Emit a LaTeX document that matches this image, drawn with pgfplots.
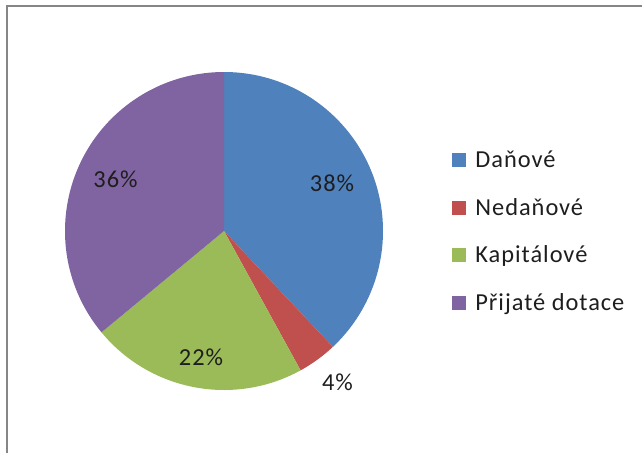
\documentclass[border=0pt]{standalone}
\usepackage{pgfplots}
\pgfplotsset{compat=1.18}
\usepackage{fontspec}
\setmainfont{Carlito}[LetterSpace=4]

\definecolor{cDan}{RGB}{79,129,189}
\definecolor{cNed}{RGB}{192,80,77}
\definecolor{cKap}{RGB}{155,187,89}
\definecolor{cDot}{RGB}{128,100,162}
\definecolor{frame}{RGB}{134,134,134}
\definecolor{txt}{RGB}{30,30,30}

\begin{document}
\begin{tikzpicture}
\useasboundingbox (0,0) rectangle (321pt,226pt);
\clip (0,0) rectangle (321pt,226pt);
\begin{axis}[
    hide axis,
    scale only axis,
    x=0.5pt, y=0.5pt,
    xmin=0, xmax=642,
    ymin=0, ymax=452,
    clip=false,
    font=\fontsize{12.2}{14}\selectfont
]
    % frame (only top and left edges fall inside the picture)
    \draw[frame, line width=1pt] (axis cs:7,-20) -- (axis cs:7,446) -- (axis cs:700,446);

    % pie: shares in percent, clockwise from 12 o'clock
    \def\r{79.5pt}
    \pgfmathsetmacro\aA{90}
    \pgfmathsetmacro\aB{90-3.6*38}
    \pgfmathsetmacro\aC{\aB-3.6*4}
    \pgfmathsetmacro\aD{\aC-3.6*22}
    \pgfmathsetmacro\aE{\aD-3.6*36}
    \fill[cDan] (axis cs:224,221) -- +(\aA:\r) arc[start angle=\aA, end angle=\aB, radius=\r] -- cycle;
    \fill[cNed] (axis cs:224,221) -- +(\aB:\r) arc[start angle=\aB, end angle=\aC, radius=\r] -- cycle;
    \fill[cKap] (axis cs:224,221) -- +(\aC:\r) arc[start angle=\aC, end angle=\aD, radius=\r] -- cycle;
    \fill[cDot] (axis cs:224,221) -- +(\aD:\r) arc[start angle=\aD, end angle=\aE, radius=\r] -- cycle;

    % data labels
    \node[txt, anchor=base] at (axis cs:332,261) {38\%};
    \node[txt, anchor=base] at (axis cs:337.5,62) {4\%};
    \node[txt, anchor=base] at (axis cs:201,87) {22\%};
    \node[txt, anchor=base] at (axis cs:115.5,265) {36\%};

    % legend
    \fill[cDan] (axis cs:452,285) rectangle (axis cs:466,299);
    \fill[cNed] (axis cs:452,237) rectangle (axis cs:466,251);
    \fill[cKap] (axis cs:452,190) rectangle (axis cs:466,204);
    \fill[cDot] (axis cs:452,142) rectangle (axis cs:466,156);
    \node[txt, anchor=base west, inner sep=0pt] at (axis cs:475,285) {Daňové};
    \node[txt, anchor=base west, inner sep=0pt] at (axis cs:475,237) {Nedaňové};
    \node[txt, anchor=base west, inner sep=0pt] at (axis cs:475,190) {Kapitálové};
    \node[txt, anchor=base west, inner sep=0pt] at (axis cs:475,142) {Přijaté dotace};
\end{axis}
\end{tikzpicture}
\end{document}
